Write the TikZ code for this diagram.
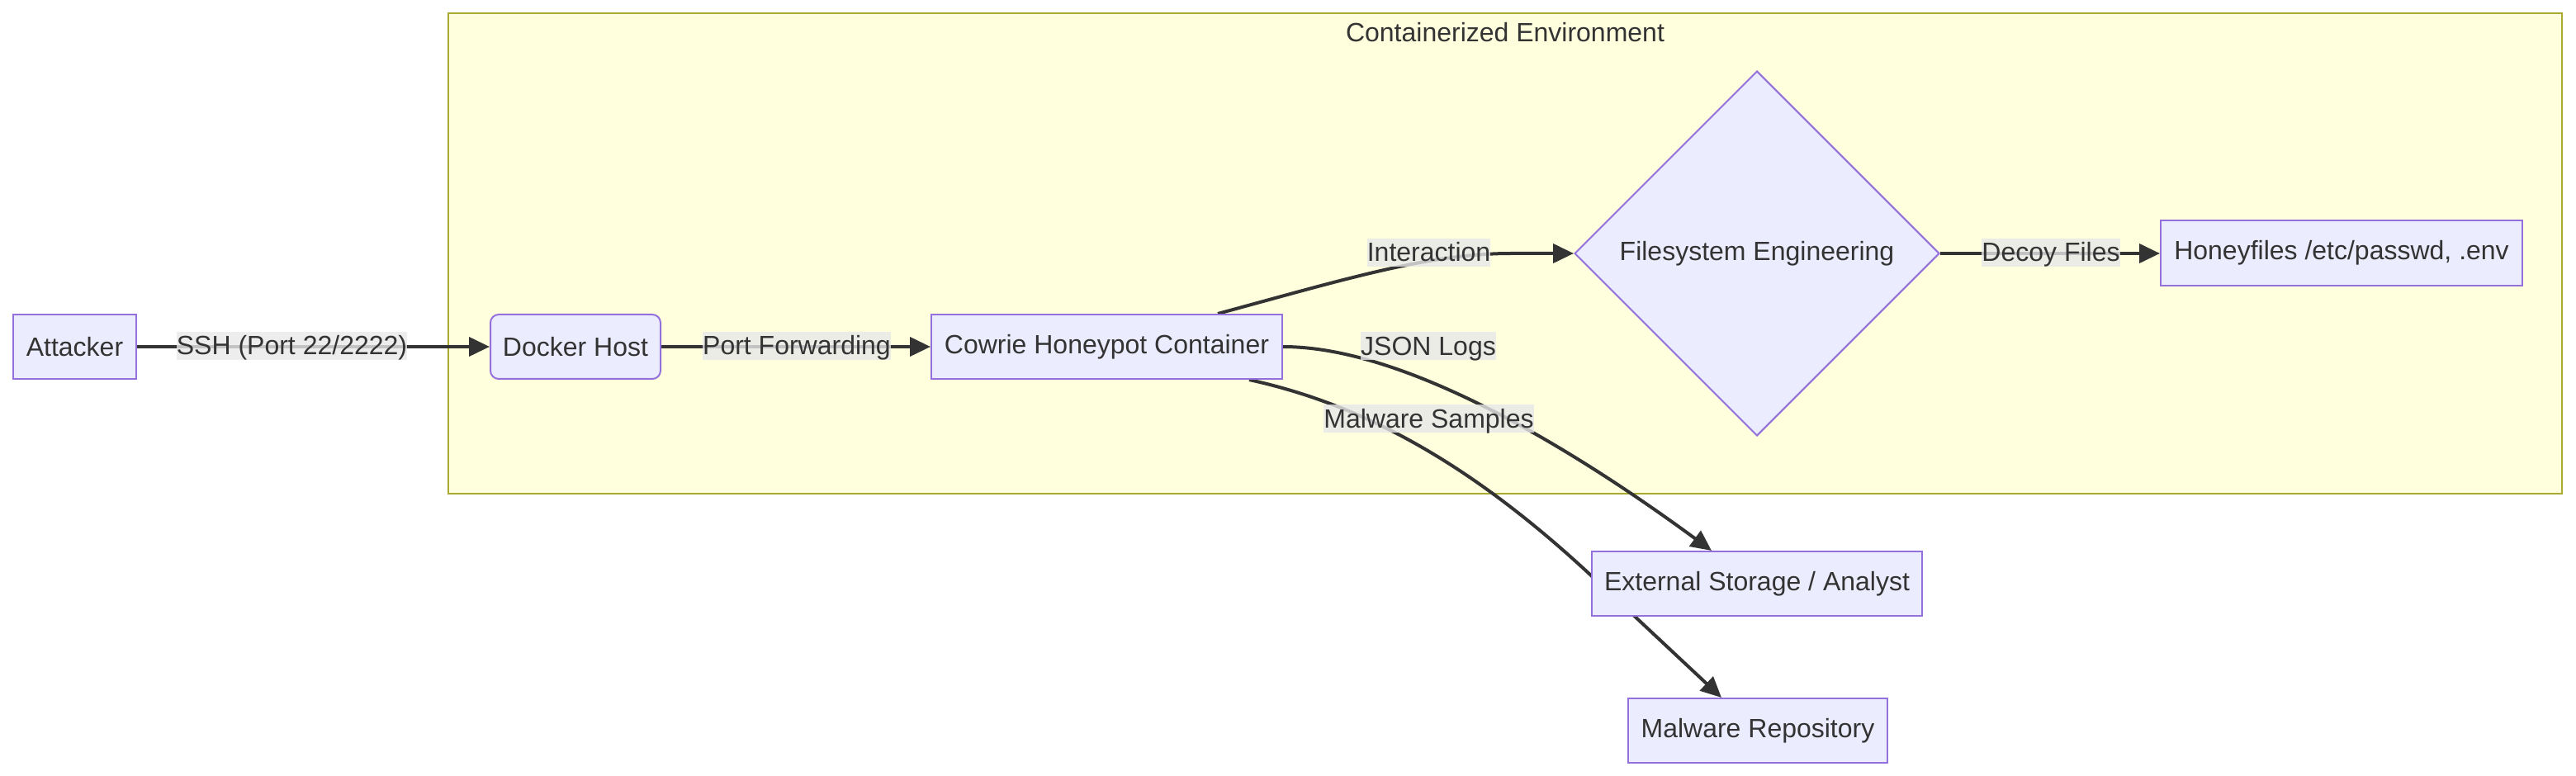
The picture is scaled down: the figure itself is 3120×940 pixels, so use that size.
\documentclass[tikz,border=0pt]{standalone}
\usepackage{fontspec}
\setmainfont{Liberation Sans}
\usetikzlibrary{arrows.meta,shapes.geometric,calc}
\definecolor{nodefill}{HTML}{ECECFF}
\definecolor{nodedraw}{HTML}{9370DB}
\definecolor{clfill}{HTML}{FFFFDE}
\definecolor{cldraw}{HTML}{AAAA33}
\definecolor{txt}{HTML}{333333}
\definecolor{lblbg}{HTML}{E8E8E8}
\pgfdeclarelayer{bg}
\pgfdeclarelayer{edges}
\pgfsetlayers{bg,edges,main}
\begin{document}
\begin{tikzpicture}[x=0.5pt,y=-0.5pt,
  font=\fontsize{16pt}{19pt}\selectfont, text=txt,
  box/.style={draw=nodedraw, fill=nodefill, line width=1pt, inner sep=0pt, minimum height=39pt},
  lbl/.style={fill=lblbg, fill opacity=0.8, text opacity=1, inner sep=0pt, text height=13.8pt, text depth=3.2pt},
  edge/.style={draw=txt, line width=2pt, -{Triangle[length=12.5pt,width=11.5pt]}}
]
\useasboundingbox (0,0) rectangle (3120,940);
\begin{pgfonlayer}{bg}
  \node[draw=cldraw, fill=clfill, line width=1pt, inner sep=0pt, minimum width=1280pt, minimum height=291pt] (env) at (1823,307) {};
\end{pgfonlayer}
\node (envt) at (1823,39) {Containerized Environment};

\node[box, minimum width=74.5pt] (att) at (90.5,420) {Attacker};
\node[box, rounded corners=5pt, minimum width=103pt] (dock) at (697,420) {Docker Host};
\node[box, minimum width=212.5pt] (cow) at (1340.5,420) {Cowrie Honeypot Container};
\node[diamond, draw=nodedraw, fill=nodefill, line width=1pt, inner sep=0pt, minimum width=221pt, minimum height=221pt] (fs) at (2128,307) {Filesystem Engineering};
\node[box, minimum width=219pt, minimum height=39.5pt] (hf) at (2836,306.5) {Honeyfiles /etc/passwd, .env};
\node[box, minimum width=200pt] (ext) at (2128,707) {External Storage / Analyst};
\node[box, minimum width=157pt] (repo) at (2129,885) {Malware Repository};

\begin{pgfonlayer}{edges}
  \draw[edge] (att) -- (dock);
  \draw[edge] (dock) -- (cow);
  \draw[edge] ($(cow.north)+(134.5,0)$) .. controls (1630,338) and (1730,307) .. (1830,307) -- (fs.west);
  \draw[edge] (fs.east) -- (fs.east -| hf.west);
  \draw[edge] (cow.east) .. controls (1700,420) and (1900,540) .. ($(ext.north)+(-55,0)$);
  \draw[edge] ($(cow.south)+(172.5,0)$) .. controls (1650,490) and (1780,560) .. (1928,698) -- ($(repo.north)+(-44,0)$);
\end{pgfonlayer}

\node[lbl] (l1) at (353.5,419) {SSH (Port 22/2222)};
\node[lbl] (l2) at (965,419) {Port Forwarding};
\node[lbl] (l3) at (1730.5,306) {Interaction};
\node[lbl] (l4) at (2484,306) {Decoy Files};
\node[lbl] (l5) at (1730,419.5) {JSON Logs};
\node[lbl] (l6) at (1730.5,507.5) {Malware Samples};
\end{tikzpicture}
\end{document}
